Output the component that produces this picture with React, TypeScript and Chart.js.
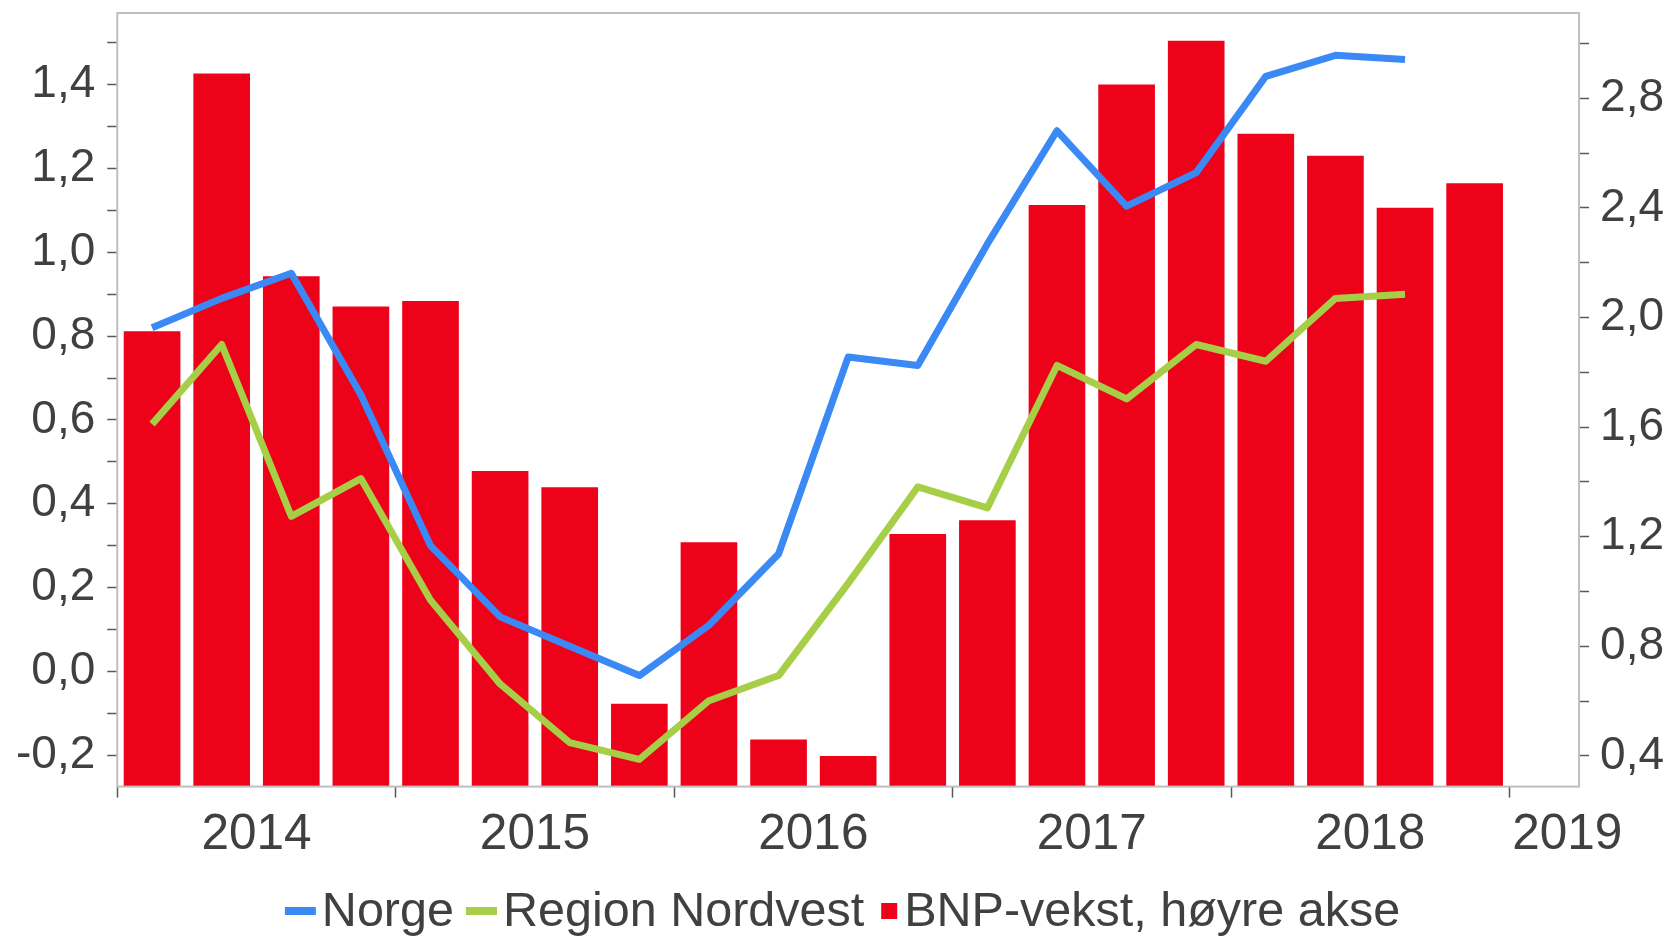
import React, { useEffect, useRef } from 'react';
import { Chart, registerables } from 'chart.js';

Chart.register(...registerables);

const FONT = "'Liberation Sans', Arial, Helvetica, sans-serif";
const TEXT = '#404040';
const TICK = '#595959';
const FRAME = '#BFBFBF';
const BLUE = '#3B89F5';
const GREEN = '#A6CE46';
const RED = '#ED021A';

const quarters = [
  '2014K1', '2014K2', '2014K3', '2014K4',
  '2015K1', '2015K2', '2015K3', '2015K4',
  '2016K1', '2016K2', '2016K3', '2016K4',
  '2017K1', '2017K2', '2017K3', '2017K4',
  '2018K1', '2018K2', '2018K3', '2018K4',
  '2019K1',
];

const years = ['2014', '2015', '2016', '2017', '2018', '2019'];
const yearCentres = [1.5, 5.5, 9.5, 13.5, 17.5, 20.33];

const norge = [
  0.82, 0.89, 0.95, 0.66, 0.30, 0.13, 0.06, -0.01, 0.11, 0.28,
  0.75, 0.73, 1.02, 1.29, 1.11, 1.19, 1.42, 1.47, 1.46, null, null,
];

const nordvest = [
  0.59, 0.78, 0.37, 0.46, 0.17, -0.03, -0.17, -0.21, -0.07, -0.01,
  0.21, 0.44, 0.39, 0.73, 0.65, 0.78, 0.74, 0.89, 0.90, null, null,
];

const bnpVekst = [
  1.95, 2.89, 2.15, 2.04, 2.06, 1.44, 1.38, 0.59, 1.18, 0.46,
  0.40, 1.21, 1.26, 2.41, 2.85, 3.01, 2.67, 2.59, 2.40, 2.49, null,
];

const leftTicks = [-0.2, -0.1, 0, 0.1, 0.2, 0.3, 0.4, 0.5, 0.6, 0.7, 0.8, 0.9, 1.0, 1.1, 1.2, 1.3, 1.4, 1.5];
const rightTicks = [0.4, 0.6, 0.8, 1.0, 1.2, 1.4, 1.6, 1.8, 2.0, 2.2, 2.4, 2.6, 2.8, 3.0];
const leftRange = [-0.275, 1.571];
const rightRange = [0.288, 3.111];

const fmt = (v: number) => v.toFixed(1).replace('.', ',');

const framePlugin = {
  id: 'frame',
  afterDatasetsDraw(chart: any) {
    const { ctx, chartArea } = chart;
    ctx.save();
    ctx.strokeStyle = FRAME;
    ctx.lineWidth = 2;
    ctx.strokeRect(chartArea.left, chartArea.top, chartArea.right - chartArea.left, chartArea.bottom - chartArea.top);
    ctx.restore();
  },
};

const legendPlugin = {
  id: 'customLegend',
  afterDraw(chart: any) {
    const ctx = chart.ctx;
    const LINE_W = 31;
    const LINE_H = 8;
    const SQ = 16;
    const SQ_LEAD = 5;
    const LINE_GAP = 6;
    const SQ_GAP = 7;
    const ITEM_GAP = 12;
    ctx.save();
    ctx.font = `48.5px ${FONT}`;
    const items = chart.data.datasets.map((ds: any) => {
      const isLine = ds.type === 'line';
      const tw = ctx.measureText(ds.label).width;
      const w = isLine ? LINE_W + LINE_GAP + tw : SQ_LEAD + SQ + SQ_GAP + tw;
      return { isLine, label: ds.label, color: isLine ? ds.borderColor : ds.backgroundColor, w };
    });
    const total = items.reduce((a: number, it: any) => a + it.w, 0) + ITEM_GAP * (items.length - 1);
    let x = chart.width / 2 + 7 - total / 2;
    const cy = chart.height - 25;
    const baseline = chart.height - 10;
    ctx.textBaseline = 'alphabetic';
    ctx.textAlign = 'left';
    for (const it of items) {
      ctx.fillStyle = it.color;
      let tx;
      if (it.isLine) {
        ctx.fillRect(x, cy - LINE_H / 2, LINE_W, LINE_H);
        tx = x + LINE_W + LINE_GAP;
      } else {
        ctx.fillRect(x + SQ_LEAD, cy - SQ / 2, SQ, SQ);
        tx = x + SQ_LEAD + SQ + SQ_GAP;
      }
      ctx.fillStyle = TEXT;
      ctx.fillText(it.label, tx, baseline);
      x += it.w + ITEM_GAP;
    }
    ctx.restore();
  },
};

// Chart.js reserves the tick padding twice on vertical axes; keep it once and drop the label overhang.
const fitVertical = (axis: any) => {
  axis.paddingTop = 0;
  axis.paddingBottom = 0;
  axis.width -= axis.options.ticks.padding;
};

export default function App() {
  const canvasRef = useRef<HTMLCanvasElement | null>(null);

  useEffect(() => {
    document.body.style.margin = '0';
    const canvas = canvasRef.current;
    if (!canvas) return;
    const chart = new Chart(canvas, {
      type: 'bar',
      data: {
        labels: quarters,
        datasets: [
          {
            type: 'line',
            label: 'Norge',
            data: norge,
            borderColor: BLUE,
            backgroundColor: BLUE,
            borderWidth: 7,
            pointRadius: 0,
            pointHoverRadius: 0,
            tension: 0,
            borderJoinStyle: 'round',
            yAxisID: 'y',
            xAxisID: 'x',
          },
          {
            type: 'line',
            label: 'Region Nordvest',
            data: nordvest,
            borderColor: GREEN,
            backgroundColor: GREEN,
            borderWidth: 7,
            pointRadius: 0,
            pointHoverRadius: 0,
            tension: 0,
            borderJoinStyle: 'round',
            yAxisID: 'y',
            xAxisID: 'x',
          },
          {
            type: 'bar',
            label: 'BNP-vekst, høyre akse',
            data: bnpVekst,
            backgroundColor: RED,
            borderWidth: 0,
            barPercentage: 0.814,
            categoryPercentage: 1,
            yAxisID: 'y1',
            xAxisID: 'x',
          },
        ] as any,
      },
      options: {
        animation: false,
        responsive: true,
        maintainAspectRatio: false,
        layout: { padding: { left: 16, right: 7, top: 13, bottom: 63 } },
        plugins: {
          legend: { display: false },
          tooltip: { enabled: false },
        },
        scales: {
          x: {
            type: 'category',
            position: 'bottom',
            offset: true,
            weight: 0,
            grid: {
              offset: true,
              drawOnChartArea: false,
              drawTicks: true,
              tickLength: 11,
              tickWidth: 1.5,
              tickColor: (c: any) => (c.index !== undefined && c.index % 4 === 0 ? TICK : 'rgba(0,0,0,0)'),
            },
            border: { display: false },
            ticks: { display: false },
          },
          x2: {
            type: 'linear',
            position: 'bottom',
            offset: false,
            min: -0.5,
            max: 20.5,
            weight: 1,
            grid: { display: false, drawTicks: false, offset: false },
            border: { display: false },
            afterBuildTicks: (axis: any) => {
              axis.ticks = yearCentres.map((v) => ({ value: v }));
            },
            ticks: {
              autoSkip: false,
              maxRotation: 0,
              padding: 8,
              color: TEXT,
              font: { family: FONT, size: 49.5 },
              callback: (_v: any, i: number) => years[i],
            },
          },
          y: {
            type: 'linear',
            position: 'left',
            min: leftRange[0],
            max: leftRange[1],
            afterBuildTicks: (axis: any) => {
              axis.ticks = leftTicks.map((v) => ({ value: v }));
            },
            afterFit: fitVertical,
            grid: { drawOnChartArea: false, tickLength: 10, tickWidth: 1.5, tickColor: TICK },
            border: { display: false },
            ticks: {
              autoSkip: false,
              padding: 12,
              color: TEXT,
              font: { family: FONT, size: 46 },
              callback: (v: any) => (Math.round(Number(v) * 10) % 2 === 0 ? fmt(Number(v)) : []),
            },
          },
          y1: {
            type: 'linear',
            position: 'right',
            min: rightRange[0],
            max: rightRange[1],
            afterBuildTicks: (axis: any) => {
              axis.ticks = rightTicks.map((v) => ({ value: v }));
            },
            afterFit: fitVertical,
            grid: { drawOnChartArea: false, tickLength: 10, tickWidth: 1.5, tickColor: TICK },
            border: { display: false },
            ticks: {
              autoSkip: false,
              padding: 11,
              color: TEXT,
              font: { family: FONT, size: 46 },
              callback: (v: any) => (Math.round(Number(v) * 10) % 4 === 0 ? fmt(Number(v)) : []),
            },
          },
        },
      } as any,
      plugins: [framePlugin, legendPlugin],
    });
    return () => chart.destroy();
  }, []);

  return (
    <div style={{ position: 'relative', width: '1671px', height: '936px' }}>
      <canvas ref={canvasRef} />
    </div>
  );
}
